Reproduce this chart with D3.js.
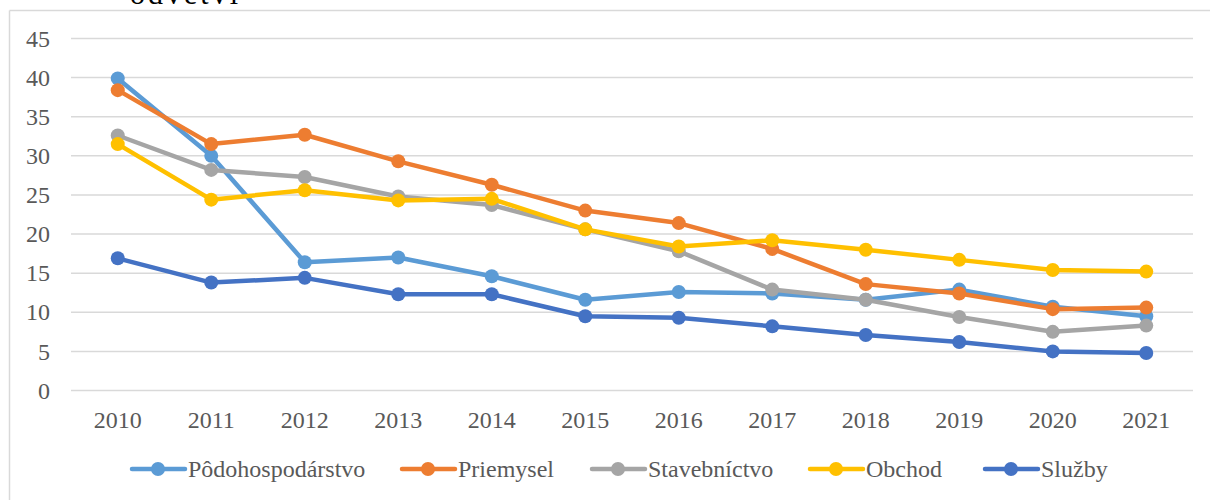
<!DOCTYPE html>
<html>
<head>
<meta charset="utf-8">
<script src="https://cdn.jsdelivr.net/npm/d3@7"></script>
<style>
  body { margin: 0; background: #fff; }
  svg text { font-family: 'Liberation Serif', 'Times New Roman', Times, 'DejaVu Serif', serif !important; }
</style>
</head>
<body>
<div id="chart"></div>
<script>
var years = ["2010", "2011", "2012", "2013", "2014", "2015", "2016", "2017", "2018", "2019", "2020", "2021"];
var yTicks = [0, 5, 10, 15, 20, 25, 30, 35, 40, 45];

var podohospodarstvo = [39.9, 30.0, 16.4, 17.0, 14.6, 11.6, 12.6, 12.4, 11.6, 12.9, 10.7, 9.5];
var priemysel = [38.4, 31.5, 32.7, 29.3, 26.3, 23.0, 21.4, 18.1, 13.6, 12.4, 10.4, 10.6];
var stavebnictvo = [32.6, 28.2, 27.3, 24.8, 23.7, 20.6, 17.8, 12.9, 11.6, 9.4, 7.5, 8.3];
var obchod = [31.5, 24.4, 25.6, 24.3, 24.5, 20.6, 18.4, 19.2, 18.0, 16.7, 15.4, 15.2];
var sluzby = [16.9, 13.8, 14.4, 12.3, 12.3, 9.5, 9.3, 8.2, 7.1, 6.2, 5.0, 4.8];

var seriesNames = ["Pôdohospodárstvo", "Priemysel", "Stavebníctvo", "Obchod", "Služby"];
var seriesColors = ["#5B9BD5", "#ED7D31", "#A5A5A5", "#FFC000", "#4472C4"];
var seriesValues = [podohospodarstvo, priemysel, stavebnictvo, obchod, sluzby];

var width = 1210, height = 500;
var svg = d3.select("#chart").append("svg")
    .attr("width", width)
    .attr("height", height);

// frame of the embedded chart (top and left edges visible)
svg.append("line").attr("x1", 9.5).attr("x2", width).attr("y1", 10.5).attr("y2", 10.5)
    .attr("stroke", "#d9d9d9").attr("stroke-width", 1.5);
svg.append("line").attr("x1", 9.5).attr("x2", 9.5).attr("y1", 10.5).attr("y2", height)
    .attr("stroke", "#d9d9d9").attr("stroke-width", 1.5);

// caption of the document above the chart, cut by the crop as in the source
svg.append("text").attr("x", 130).attr("y", 4)
    .attr("font-size", 30).attr("fill", "#000")
    .attr("letter-spacing", 3)
    .text("odvetví");

var x = d3.scaleBand().domain(years).range([71, 1193]);
var y = d3.scaleLinear().domain([0, 45]).range([390.5, 38.5]);

// gridlines
svg.append("g").selectAll("line").data(yTicks).enter().append("line")
    .attr("x1", 71).attr("x2", 1193)
    .attr("y1", function (d) { return y(d); })
    .attr("y2", function (d) { return y(d); })
    .attr("stroke", "#d9d9d9").attr("stroke-width", 1.5);

// y axis labels
var yAxis = d3.axisLeft(y).tickValues(yTicks).tickSize(0).tickPadding(0);
var gy = svg.append("g").attr("transform", "translate(50,0)").call(yAxis);
gy.select(".domain").remove();
gy.selectAll("text").attr("font-size", 24).attr("fill", "#595959");

// x axis labels
var xAxis = d3.axisBottom(x).tickSize(0).tickPadding(0);
var gx = svg.append("g").attr("transform", "translate(0,411)").call(xAxis);
gx.select(".domain").remove();
gx.selectAll("text").attr("font-size", 24).attr("fill", "#595959");

var line = d3.line()
    .x(function (d, i) { return x(years[i]) + x.bandwidth() / 2; })
    .y(function (d) { return y(d); });

seriesValues.forEach(function (vals, k) {
    var g = svg.append("g");
    g.append("path").datum(vals)
        .attr("d", line)
        .attr("fill", "none")
        .attr("stroke", seriesColors[k])
        .attr("stroke-width", 4.5)
        .attr("stroke-linejoin", "round")
        .attr("stroke-linecap", "round");
    g.selectAll("circle").data(vals).enter().append("circle")
        .attr("cx", function (d, i) { return x(years[i]) + x.bandwidth() / 2; })
        .attr("cy", function (d) { return y(d); })
        .attr("r", 7)
        .attr("fill", seriesColors[k]);
});

// legend
var legendX = [130, 400, 590, 808, 983];
var legend = svg.append("g");
seriesNames.forEach(function (name, k) {
    var lx = legendX[k];
    legend.append("line")
        .attr("x1", lx + 2).attr("x2", lx + 55)
        .attr("y1", 469).attr("y2", 469)
        .attr("stroke", seriesColors[k]).attr("stroke-width", 4.5)
        .attr("stroke-linecap", "round");
    legend.append("circle").attr("cx", lx + 28).attr("cy", 469).attr("r", 7)
        .attr("fill", seriesColors[k]);
    legend.append("text")
        .attr("x", lx + 58).attr("y", 477)
        .attr("font-size", 24).attr("fill", "#595959")
        .text(name);
});
</script>
</body>
</html>
